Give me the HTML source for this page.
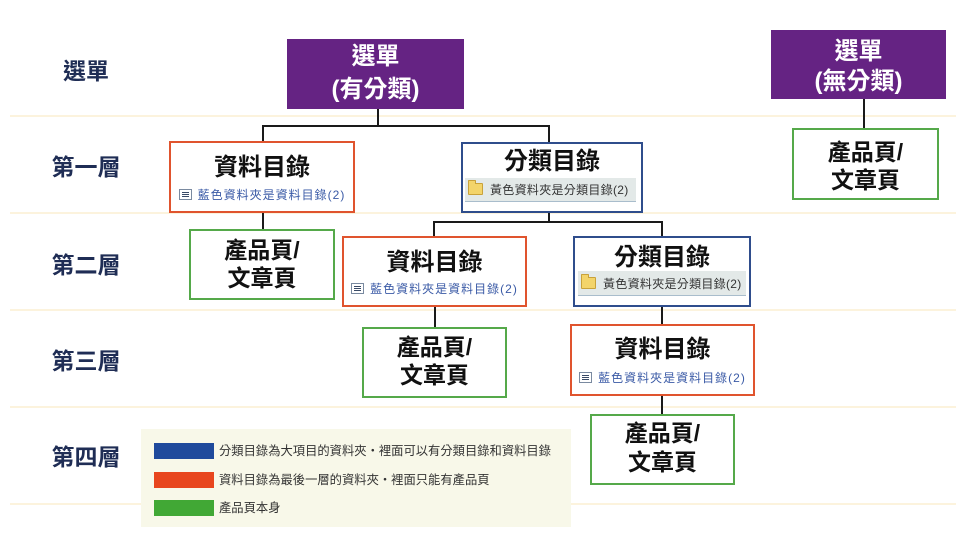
<!DOCTYPE html>
<html><head><meta charset="utf-8">
<style>
html,body{margin:0;padding:0;background:#fff;}
body{width:969px;height:560px;position:relative;overflow:hidden;font-family:"Liberation Sans","Noto Sans CJK TC",sans-serif;}
.a{position:absolute;}
.sep{position:absolute;left:10px;width:946px;height:2px;background:#fcf3dd;}
.lbl{position:absolute;left:26px;width:120px;text-align:center;font-size:23px;font-weight:700;color:#1f2d55;line-height:30px;}
.box{position:absolute;box-sizing:border-box;border:2px solid;background:#fff;}
.or{border-color:#e0542e;}
.bl{border-color:#2f4d8c;}
.gr{border-color:#55a94a;}
.pu{position:absolute;background:#652383;}
.t{position:absolute;text-align:center;font-size:24px;font-weight:700;color:#111;line-height:30px;white-space:nowrap;}
.w{color:#fff;font-weight:700;}
.pg{position:absolute;text-align:center;font-size:23px;font-weight:700;color:#111;line-height:28px;white-space:nowrap;}
.ln{position:absolute;background:#1a1a1a;}
.sub{position:absolute;text-align:center;font-size:12px;line-height:16px;color:#3a5aa6;letter-spacing:1px;white-space:nowrap;}
.ic{display:inline-block;width:11px;height:9px;border:1px solid #7a8aa0;background:#fff;vertical-align:-1px;margin-right:6px;position:relative;}
.ic:before{content:"";position:absolute;left:2px;top:2px;width:7px;height:1px;background:#3a4a66;box-shadow:0 2px 0 #3a4a66,0 4px 0 #3a4a66;}
.bar{position:absolute;background:#e3e9e8;border-bottom:1px solid #a9bdcc;}
.ftxt{position:absolute;font-size:12px;line-height:16px;color:#333;white-space:nowrap;letter-spacing:0.3px;}
.fold{display:inline-block;width:13px;height:10px;background:#f3d46a;border:1px solid #c9a23a;border-radius:1px;vertical-align:-1px;margin-right:7px;position:relative;}
.fold:before{content:"";position:absolute;left:-1px;top:-4px;width:6px;height:3px;background:#f3d46a;border:1px solid #c9a23a;border-bottom:none;border-radius:1px 1px 0 0;}
.leg{position:absolute;left:141px;top:429px;width:430px;height:98px;background:#f8f8e9;}
.sw{position:absolute;left:154px;width:60px;height:16px;}
.lt{position:absolute;left:219px;font-size:12.3px;line-height:16px;color:#333;white-space:nowrap;}
</style></head><body>

<!-- separators -->
<div class="sep" style="top:115px"></div>
<div class="sep" style="top:212px"></div>
<div class="sep" style="top:309px"></div>
<div class="sep" style="top:406px"></div>
<div class="sep" style="top:503px"></div>

<!-- left labels -->
<div class="lbl" style="top:56px">選單</div>
<div class="lbl" style="top:152px">第一層</div>
<div class="lbl" style="top:250px">第二層</div>
<div class="lbl" style="top:346px">第三層</div>
<div class="lbl" style="top:442px">第四層</div>

<!-- connectors -->
<div class="ln" style="left:377px;top:109px;width:2px;height:18px"></div>
<div class="ln" style="left:262px;top:125px;width:288px;height:2px"></div>
<div class="ln" style="left:262px;top:125px;width:2px;height:17px"></div>
<div class="ln" style="left:548px;top:125px;width:2px;height:17px"></div>
<div class="ln" style="left:262px;top:211px;width:2px;height:19px"></div>
<div class="ln" style="left:548px;top:211px;width:2px;height:11px"></div>
<div class="ln" style="left:433px;top:221px;width:230px;height:2px"></div>
<div class="ln" style="left:433px;top:221px;width:2px;height:16px"></div>
<div class="ln" style="left:661px;top:221px;width:2px;height:16px"></div>
<div class="ln" style="left:434px;top:306px;width:2px;height:22px"></div>
<div class="ln" style="left:661px;top:306px;width:2px;height:19px"></div>
<div class="ln" style="left:661px;top:395px;width:2px;height:20px"></div>
<div class="ln" style="left:863px;top:98px;width:2px;height:31px"></div>

<!-- purple boxes -->
<div class="pu" style="left:287px;top:39px;width:177px;height:70px"></div>
<div class="t w" style="left:287px;width:177px;top:42px">選單</div>
<div class="t w" style="left:287px;width:177px;top:75px">(有分類)</div>

<div class="pu" style="left:771px;top:30px;width:175px;height:69px"></div>
<div class="t w" style="left:771px;width:175px;top:37px">選單</div>
<div class="t w" style="left:771px;width:175px;top:67px">(無分類)</div>

<!-- level 1 -->
<div class="box or" style="left:169px;top:141px;width:186px;height:72px"></div>
<div class="t" style="left:169px;width:186px;top:153px">資料目錄</div>
<div class="sub" style="left:169px;width:186px;top:187px"><span class="ic"></span>藍色資料夾是資料目錄(2)</div>

<div class="box bl" style="left:461px;top:142px;width:182px;height:71px"></div>
<div class="t" style="left:461px;width:182px;top:147px">分類目錄</div>
<div class="bar" style="left:465px;top:178px;width:171px;height:23px"></div>
<div class="ftxt" style="left:468px;top:182px"><span class="fold"></span>黃色資料夾是分類目錄(2)</div>

<div class="box gr" style="left:792px;top:128px;width:147px;height:72px"></div>
<div class="pg" style="left:792px;width:147px;top:138px">產品頁/</div>
<div class="pg" style="left:792px;width:147px;top:166px">文章頁</div>

<!-- level 2 -->
<div class="box gr" style="left:189px;top:229px;width:146px;height:71px"></div>
<div class="pg" style="left:189px;width:146px;top:236px">產品頁/</div>
<div class="pg" style="left:189px;width:146px;top:264px">文章頁</div>

<div class="box or" style="left:342px;top:236px;width:185px;height:71px"></div>
<div class="t" style="left:342px;width:185px;top:248px">資料目錄</div>
<div class="sub" style="left:342px;width:185px;top:281px"><span class="ic"></span>藍色資料夾是資料目錄(2)</div>

<div class="box bl" style="left:573px;top:236px;width:178px;height:71px"></div>
<div class="t" style="left:573px;width:178px;top:243px">分類目錄</div>
<div class="bar" style="left:578px;top:271px;width:168px;height:24px"></div>
<div class="ftxt" style="left:581px;top:276px"><span class="fold"></span>黃色資料夾是分類目錄(2)</div>

<!-- level 3 -->
<div class="box gr" style="left:362px;top:327px;width:145px;height:71px"></div>
<div class="pg" style="left:362px;width:145px;top:333px">產品頁/</div>
<div class="pg" style="left:362px;width:145px;top:361px">文章頁</div>

<div class="box or" style="left:570px;top:324px;width:185px;height:72px"></div>
<div class="t" style="left:570px;width:185px;top:335px">資料目錄</div>
<div class="sub" style="left:570px;width:185px;top:370px"><span class="ic"></span>藍色資料夾是資料目錄(2)</div>

<!-- level 4 -->
<div class="box gr" style="left:590px;top:414px;width:145px;height:71px"></div>
<div class="pg" style="left:590px;width:145px;top:419px">產品頁/</div>
<div class="pg" style="left:590px;width:145px;top:448px">文章頁</div>

<!-- legend -->
<div class="leg"></div>
<div class="sw" style="top:443px;background:#1f4a9c"></div>
<div class="sw" style="top:472px;background:#e8461e"></div>
<div class="sw" style="top:500px;background:#41a835"></div>
<div class="lt" style="top:443px">分類目錄為大項目的資料夾・裡面可以有分類目錄和資料目錄</div>
<div class="lt" style="top:472px">資料目錄為最後一層的資料夾・裡面只能有產品頁</div>
<div class="lt" style="top:500px">產品頁本身</div>

</body></html>
